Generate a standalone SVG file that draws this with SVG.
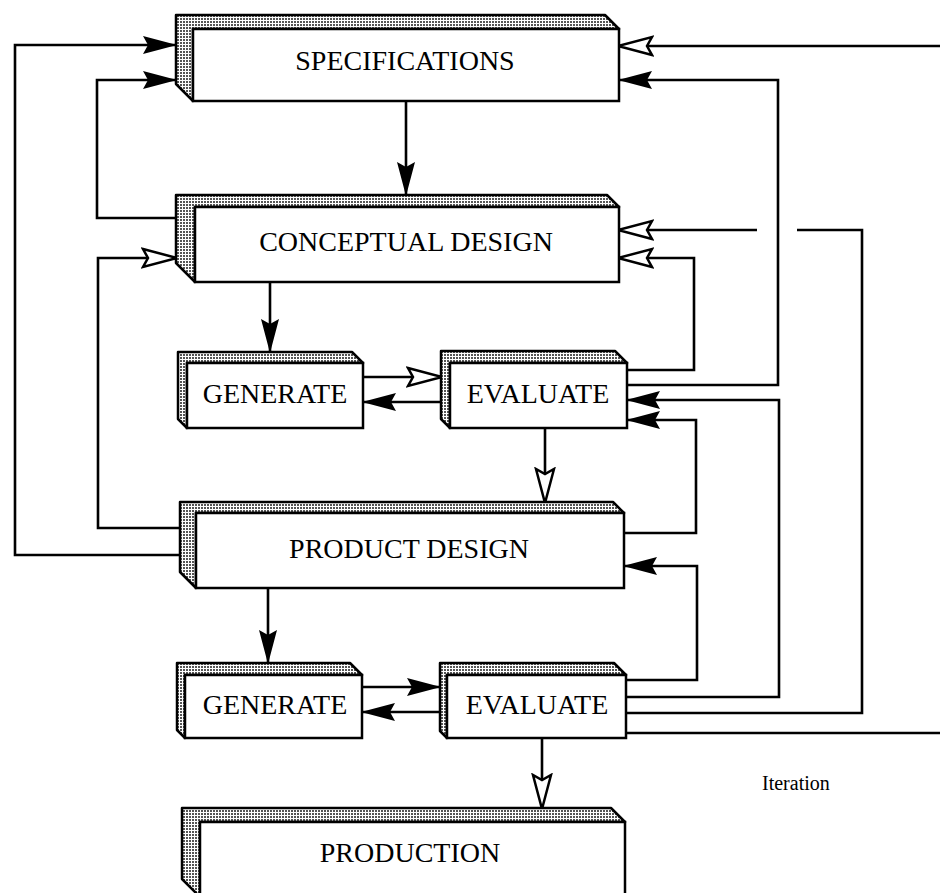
<svg xmlns="http://www.w3.org/2000/svg" width="940" height="893" viewBox="0 0 940 893">
<style>
.sh{fill:url(#dots);stroke:#000;stroke-width:2.5;stroke-linejoin:round}
.bx{fill:#fff;stroke:#000;stroke-width:2.5}
.lb{font-family:"Liberation Serif","Times New Roman",serif;font-size:28px;fill:#000;text-anchor:middle}
.ln{fill:none;stroke:#000;stroke-width:2.6}
.f{marker-end:url(#af)}
.h{marker-end:url(#ah)}
</style>
<defs>
<pattern id="dots" width="3" height="3" patternUnits="userSpaceOnUse">
<rect width="3" height="3" fill="#fff"/>
<rect width="2" height="2" fill="#555"/>
</pattern>
<marker id="af" viewBox="0 0 34 20" refX="33" refY="10" markerWidth="34" markerHeight="20" orient="auto" markerUnits="userSpaceOnUse">
<path d="M0,1 L34,10 L0,19 L5,10 Z" fill="#000"/>
</marker>
<marker id="ah" viewBox="-2 -2 38 24" refX="33" refY="10" markerWidth="38" markerHeight="24" orient="auto" markerUnits="userSpaceOnUse">
<path d="M0,1 L34,10 L0,19 L5,10 Z" fill="#fff" stroke="#000" stroke-width="2.5" stroke-linejoin="miter"/>
</marker>
</defs>

<g id="connectors">
<path class="ln f" d="M406,101 V195"/>
<path class="ln f" d="M270,282 V352"/>
<path class="ln h" d="M363,377 H441"/>
<path class="ln f" d="M441,402 H363"/>
<path class="ln h" d="M545,428 V502"/>
<path class="ln f" d="M268,588 V663"/>
<path class="ln f" d="M362,687 H440"/>
<path class="ln f" d="M440,712 H362"/>
<path class="ln h" d="M542,738 V808"/>
<path class="ln f" d="M180,555 H15 V45 H176"/>
<path class="ln f" d="M176,218 H97 V80 H176"/>
<path class="ln h" d="M180,528 H98 V258 H176"/>
<path class="ln h" d="M940,46 H619"/>
<path class="ln f" d="M627,385 H778 V80 H619"/>
<path class="ln h" d="M627,370 H694 V258 H619"/>
<path class="ln" d="M626,713 H862 V230 H797"/>
<path class="ln h" d="M757,230 H619"/>
<path class="ln f" d="M624,533 H696 V420 H627"/>
<path class="ln f" d="M626,680 H697 V566 H624"/>
<path class="ln f" d="M626,697 H779 V400 H627"/>
<path class="ln" d="M626,733 H940"/>
<text x="762" y="790" font-family="Liberation Serif, Times New Roman, serif" font-size="20">Iteration</text>
</g>

<g id="specifications">
<polygon class="sh" points="176,15 605,15 619,29 193,29 193,101 176,84"/>
<rect class="bx" x="193" y="29" width="426" height="72"/>
<text class="lb" x="405" y="70">SPECIFICATIONS</text>
</g>

<g id="conceptual-design">
<polygon class="sh" points="176,195 607,195 619,207 195,207 195,282 176,263"/>
<rect class="bx" x="195" y="207" width="424" height="75"/>
<text class="lb" x="406" y="251">CONCEPTUAL DESIGN</text>
</g>

<g id="generate-1">
<polygon class="sh" points="178,352 352,352 363,363 187,363 187,428 178,419"/>
<rect class="bx" x="187" y="363" width="176" height="65"/>
<text class="lb" x="275" y="403">GENERATE</text>
</g>

<g id="evaluate-1">
<polygon class="sh" points="441,351 615,351 627,363 450,363 450,428 441,419"/>
<rect class="bx" x="450" y="363" width="177" height="65"/>
<text class="lb" x="538" y="403">EVALUATE</text>
</g>

<g id="product-design">
<polygon class="sh" points="180,502 613,502 624,513 196,513 196,588 180,572"/>
<rect class="bx" x="196" y="513" width="428" height="75"/>
<text class="lb" x="409" y="558">PRODUCT DESIGN</text>
</g>

<g id="generate-2">
<polygon class="sh" points="177,663 350,663 362,675 185,675 185,738 177,730"/>
<rect class="bx" x="185" y="675" width="177" height="63"/>
<text class="lb" x="275" y="714">GENERATE</text>
</g>

<g id="evaluate-2">
<polygon class="sh" points="440,663 614,663 626,675 447,675 447,738 440,731"/>
<rect class="bx" x="447" y="675" width="179" height="63"/>
<text class="lb" x="537" y="714">EVALUATE</text>
</g>

<g id="production">
<polygon class="sh" points="182,808 611,808 625,822 200,822 200,897 182,879"/>
<rect class="bx" x="200" y="822" width="425" height="75"/>
<text class="lb" x="410" y="862">PRODUCTION</text>
</g>
</svg>
